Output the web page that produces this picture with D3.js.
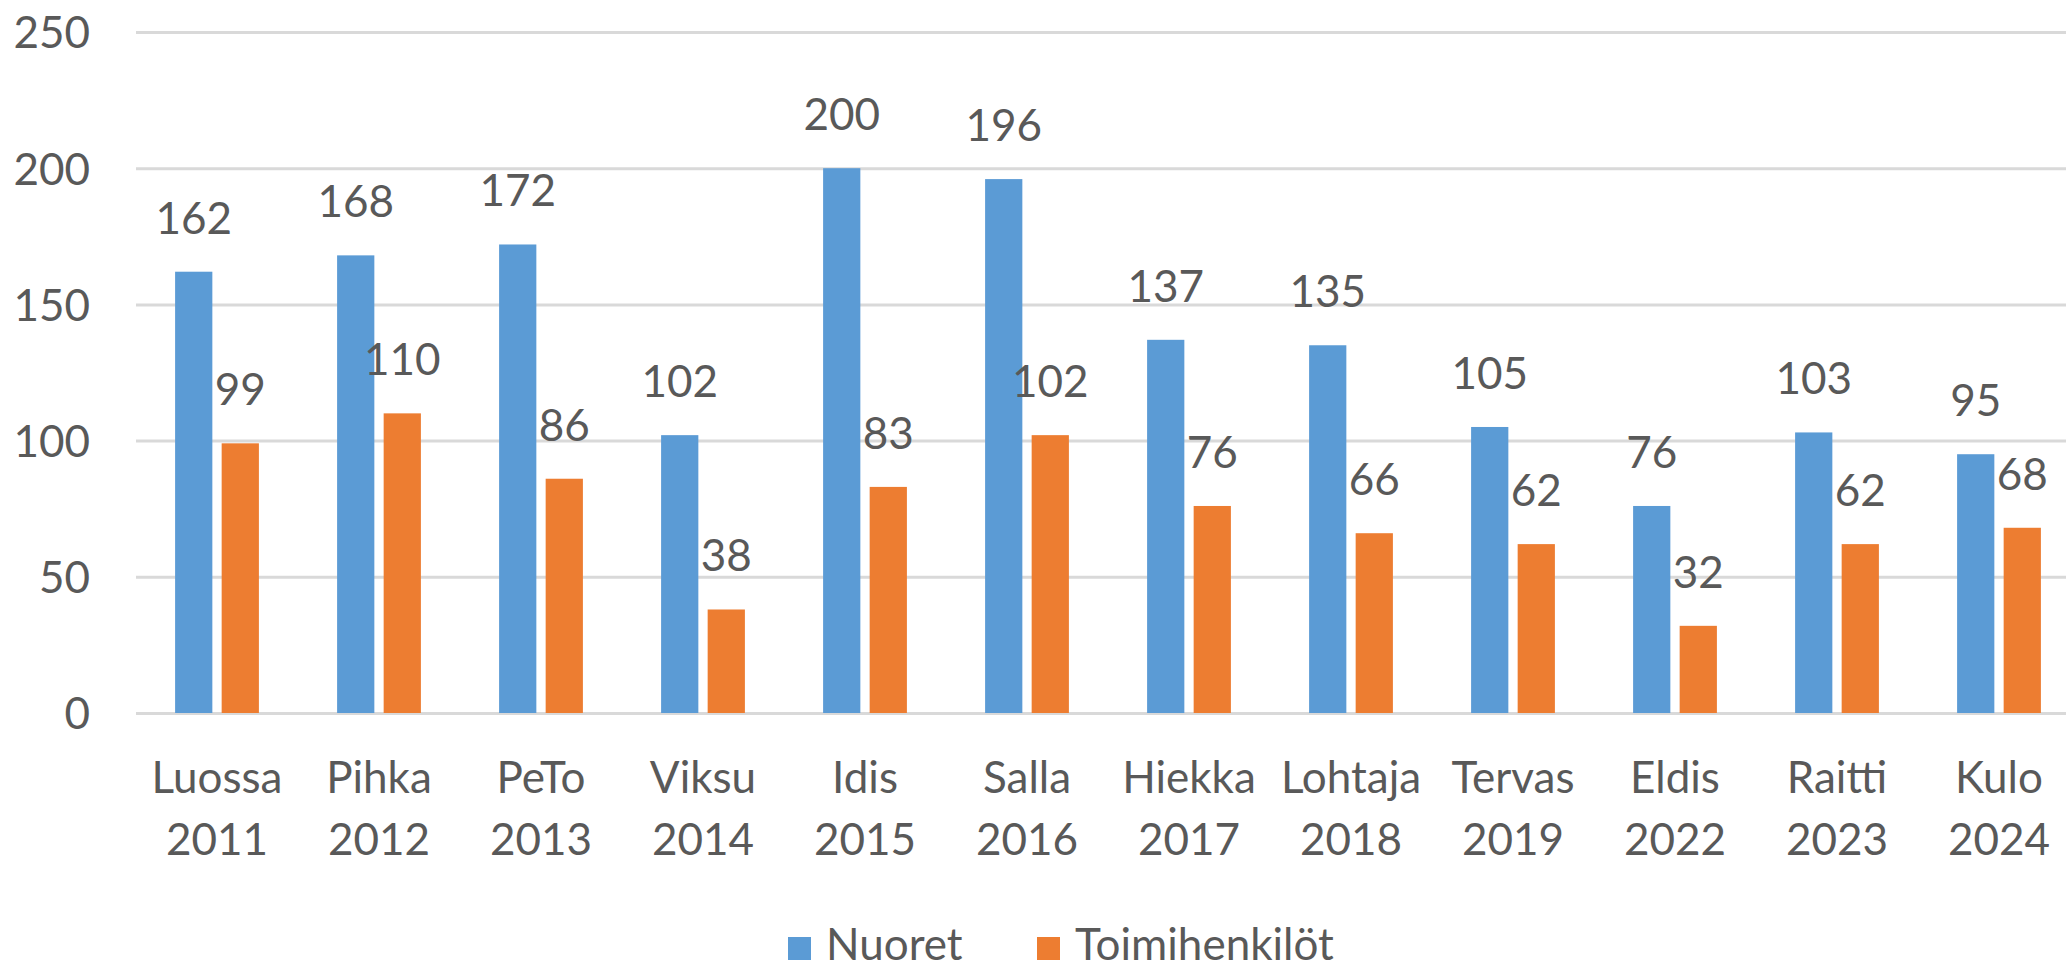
<!DOCTYPE html>
<html>
<head>
<meta charset="utf-8">
<script src="https://cdn.jsdelivr.net/npm/d3@7"></script>
<style>
  body { margin: 0; background: #fff; }
  text { font-family: Lato, "Open Sans", sans-serif; fill: #595959; }
</style>
</head>
<body>
<div id="chart"></div>
<script>
// data
const events = ["Luossa", "Pihka", "PeTo", "Viksu", "Idis", "Salla", "Hiekka", "Lohtaja", "Tervas", "Eldis", "Raitti", "Kulo"];
const years = ["2011", "2012", "2013", "2014", "2015", "2016", "2017", "2018", "2019", "2022", "2023", "2024"];
const seriesNames = ["Nuoret", "Toimihenkilöt"];
const nuoret = [162, 168, 172, 102, 200, 196, 137, 135, 105, 76, 103, 95];
const toimihenkilot = [99, 110, 86, 38, 83, 102, 76, 66, 62, 32, 62, 68];
const yTicks = [0, 50, 100, 150, 200, 250];

const colours = ["#5B9BD5", "#ED7D31"];
const gridColour = "#D9D9D9";

const width = 2066, height = 969;
const plot = {left: 136, right: 2080, top: 32, bottom: 713};

const svg = d3.select("#chart")
  .append("svg")
    .attr("width", width)
    .attr("height", height);

const categories = events.map((e, i) => e + " " + years[i]);

const x0 = d3.scaleBand()
  .domain(categories)
  .range([plot.left, plot.right])
  .padding(0);

const x1 = d3.scaleBand()
  .domain(seriesNames)
  .range([0, x0.bandwidth()])
  .paddingInner(0.2)
  .paddingOuter(0.84);

const y = d3.scaleLinear()
  .domain([0, 250])
  .range([plot.bottom, plot.top]);

// gridlines + y labels
const yAxis = svg.append("g")
  .attr("transform", `translate(${plot.left},0)`)
  .call(d3.axisLeft(y)
    .tickValues(yTicks)
    .tickSize(-(plot.right - plot.left))
    .tickPadding(46));

yAxis.select(".domain").remove();
yAxis.selectAll(".tick line")
  .attr("stroke", gridColour)
  .attr("stroke-width", 3);
yAxis.selectAll(".tick text")
  .style("font-size", "44px")
  .attr("dy", "0.36em");

// bars
const rows = categories.map((c, i) => ({cat: c, values: [nuoret[i], toimihenkilot[i]]}));

const groups = svg.append("g")
  .selectAll("g")
  .data(rows)
  .join("g")
    .attr("transform", d => `translate(${x0(d.cat)},0)`);

groups.selectAll("rect")
  .data(d => d.values.map((v, k) => ({name: seriesNames[k], value: v, k: k})))
  .join("rect")
    .attr("x", d => x1(d.name))
    .attr("y", d => y(d.value))
    .attr("width", x1.bandwidth())
    .attr("height", d => y(0) - y(d.value))
    .attr("fill", d => colours[d.k]);

groups.selectAll("text.val")
  .data(d => d.values.map((v, k) => ({name: seriesNames[k], value: v})))
  .join("text")
    .attr("class", "val")
    .attr("x", d => x1(d.name) + x1.bandwidth() / 2)
    .attr("y", d => y(d.value) - 38)
    .attr("text-anchor", "middle")
    .style("font-size", "44px")
    .text(d => d.value);

// category labels, two lines
const xAxis = svg.append("g")
  .attr("transform", `translate(0,${plot.bottom})`)
  .call(d3.axisBottom(x0).tickSize(0));
xAxis.select(".domain").remove();
xAxis.selectAll(".tick text").remove();

xAxis.selectAll(".tick").each(function(d, i) {
  const t = d3.select(this).append("text")
    .attr("text-anchor", "middle")
    .style("font-size", "44px");
  t.append("tspan").attr("x", 0).attr("y", 80).text(events[i]);
  t.append("tspan").attr("x", 0).attr("y", 142).text(years[i]);
});

// legend
const legendPos = [788, 1037];
const legend = svg.append("g")
  .selectAll("g")
  .data(seriesNames)
  .join("g")
    .attr("transform", (d, i) => `translate(${legendPos[i]},937)`);

legend.append("rect")
  .attr("width", 23)
  .attr("height", 23)
  .attr("fill", (d, i) => colours[i]);

legend.append("text")
  .attr("x", 38)
  .attr("y", 23)
  .style("font-size", "44px")
  .text(d => d);
</script>
</body>
</html>
